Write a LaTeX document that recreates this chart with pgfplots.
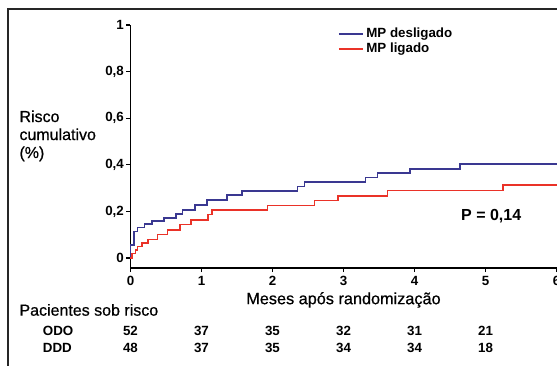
\documentclass[border=0pt]{standalone}
\usepackage{fontspec}
\setmainfont{Liberation Sans}
\newfontfamily\medfont[FakeBold=0.6]{Liberation Sans}
\usepackage{pgfplots}
\pgfplotsset{compat=1.18}
\definecolor{mpblue}{RGB}{58,56,145}
\definecolor{mpred}{RGB}{234,50,40}
\begin{document}
\begin{tikzpicture}
\useasboundingbox (0,0) rectangle (417.75pt,-273.75pt);
\draw[line width=1.1pt, black!85] (6pt,-275pt) -- (6pt,-6.75pt) -- (419pt,-6.75pt);
\begin{axis}[
  at={(97.875pt,-201pt)}, anchor=south west,
  x=53.25pt, y=174.75pt,
  xmin=0, xmax=6, ymin=-0.043, ymax=1,
  axis x line*=bottom, axis y line*=left,
  axis line style={line width=1.1pt, black},
  tick style={line width=0.9pt, black},
  tick align=outside, major tick length=3pt,
  xtick={0,1,2,3,4,5,6}, xticklabels={0,1,2,3,4,5,6},
  ytick={0,0.2,0.4,0.6,0.8,1}, yticklabels={0,{0,2},{0,4},{0,6},{0,8},1},
  tick label style={font=\bfseries\fontsize{10}{12}\selectfont},
  xticklabel style={yshift=0.5pt},
  yticklabel style={xshift=1.5pt},
  clip=false,
  legend style={at={(axis cs:2.92,1.0)}, anchor=north west, draw=none, fill=none,
    font=\bfseries\fontsize{10}{12}\selectfont, row sep=-1.5pt, inner sep=0pt},
  legend cell align=left,
  legend image code/.code={\draw[#1] (0pt,0pt) -- (18pt,0pt);},
]
\addplot[const plot, mpblue, line width=1.2pt] coordinates {
(0,0) (0,0.056) (0.05,0.113) (0.10,0.13) (0.2,0.145) (0.3,0.158) (0.47,0.172)
(0.64,0.19) (0.73,0.207) (0.91,0.228) (1.08,0.249) (1.36,0.27) (1.57,0.288)
(2.35,0.306) (2.45,0.327) (3.31,0.345) (3.48,0.366) (3.94,0.383) (4.64,0.404) (6,0.404)};
\addlegendentry{MP desligado}
\addplot[const plot, mpred, line width=1.2pt] coordinates {
(0,0) (0.02,0.02) (0.07,0.035) (0.10,0.05) (0.16,0.065) (0.25,0.08) (0.38,0.10)
(0.52,0.12) (0.70,0.143) (0.85,0.163) (1.09,0.187) (1.15,0.206) (1.93,0.225)
(2.59,0.246) (2.92,0.267) (3.62,0.29) (5.25,0.313) (6,0.313)};
\addlegendentry{MP ligado}
\node[anchor=west, align=left, font=\medfont\fontsize{12}{13.5}\selectfont] at (axis cs:-1.63,0.524) {Risco\\cumulativo\\(\%)};
\node[font=\medfont\fontsize{12.2}{14}\selectfont] at (axis cs:3,-0.18) {Meses após randomização};
\node[anchor=west, font=\medfont\fontsize{12}{14}\selectfont] at (axis cs:-1.63,-0.223) {Pacientes sob risco};
\node[anchor=west, font=\bfseries\fontsize{10}{12}\selectfont] at (axis cs:-1.30,-0.313) {ODO};
\node[anchor=west, font=\bfseries\fontsize{10}{12}\selectfont] at (axis cs:-1.30,-0.386) {DDD};
\begin{scope}[every node/.style={font=\bfseries\fontsize{10}{12}\selectfont}]
\node at (axis cs:0,-0.313) {52}; \node at (axis cs:0,-0.386) {48};
\node at (axis cs:1,-0.313) {37}; \node at (axis cs:1,-0.386) {37};
\node at (axis cs:2,-0.313) {35}; \node at (axis cs:2,-0.386) {35};
\node at (axis cs:3,-0.313) {32}; \node at (axis cs:3,-0.386) {34};
\node at (axis cs:4,-0.313) {31}; \node at (axis cs:4,-0.386) {34};
\node at (axis cs:5,-0.313) {21}; \node at (axis cs:5,-0.386) {18};
\end{scope}
\node[font=\bfseries\fontsize{12}{14}\selectfont] at (axis cs:5.08,0.18) {P = 0,14};
\end{axis}
\end{tikzpicture}
\end{document}
